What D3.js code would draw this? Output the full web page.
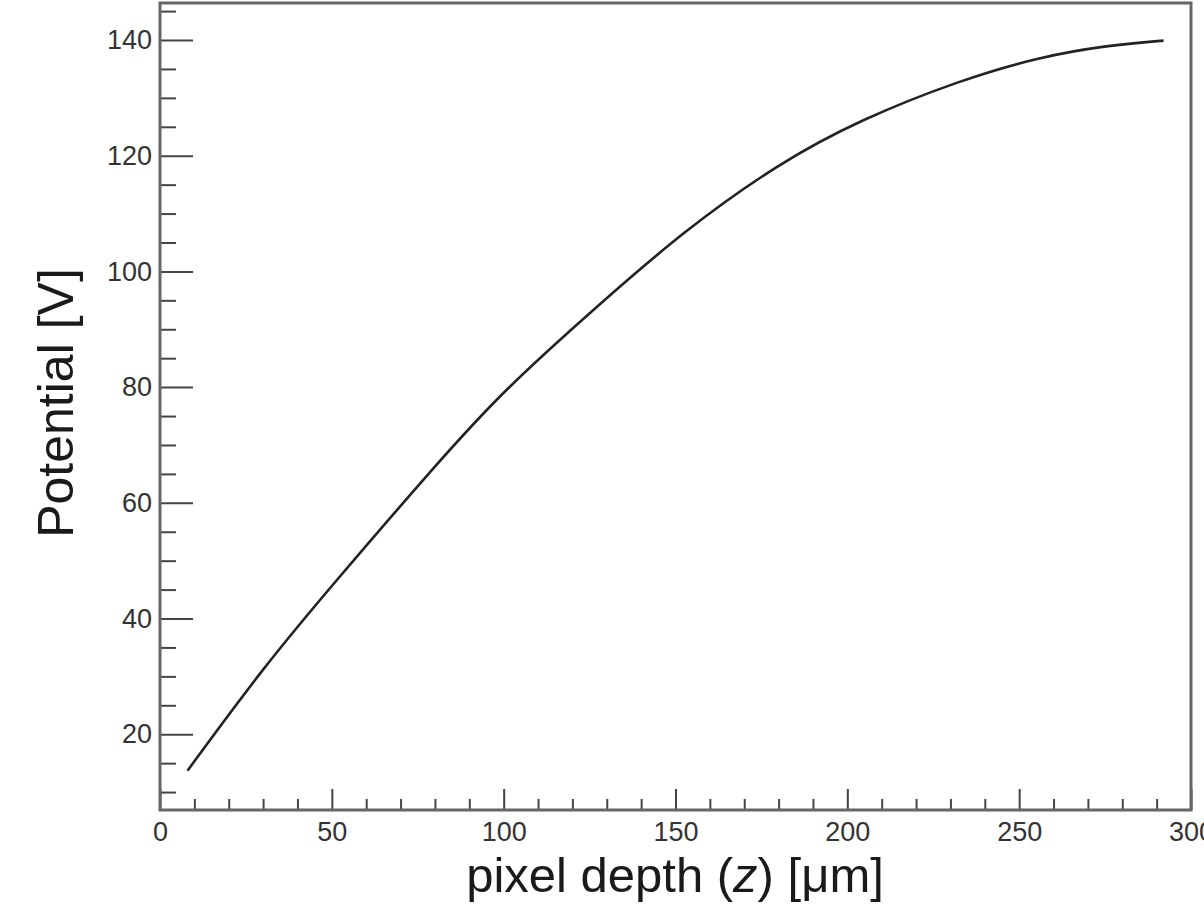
<!DOCTYPE html>
<html>
<head>
<meta charset="utf-8">
<script src="https://cdn.jsdelivr.net/npm/d3@7"></script>
<style>
  html, body { margin: 0; padding: 0; background: #fff; }
  svg { display: block; }
</style>
</head>
<body>
<svg></svg>
<script>
// values
var depth = [8, 30, 50, 80, 100, 128, 152, 180, 204, 233, 256, 276, 292];
var potential = [13.7, 31.5, 45.7, 66.4, 79.5, 94.4, 106.8, 118.7, 126.3, 133.1, 137.1, 139.1, 139.9];

var xMajor = [0, 50, 100, 150, 200, 250, 300];
var yMajor = [20, 40, 60, 80, 100, 120, 140];

var data = depth.map((d, i) => ({ z: d, v: potential[i] }));

const svgWidth = 1204,
    svgHeight = 908;

var frame = { left: 160, right: 1191, top: 3, bottom: 810 };

var svg = d3.select('svg')
    .attr("width", svgWidth)
    .attr("height", svgHeight);

var x = d3.scaleLinear()
    .domain([0, 300])
    .range([frame.left, frame.right]);

var y = d3.scaleLinear()
    .domain([6.9, 146.4])
    .range([frame.bottom, frame.top]);

var xMinor = d3.range(10, 300, 10).filter(d => d % 50 != 0);
var yMinor = d3.range(10, 146, 5).filter(d => d % 20 != 0);

// minor ticks first
svg.append("g")
    .attr("transform", "translate(0," + frame.bottom + ")")
    .call(d3.axisBottom(x).tickValues(xMinor).tickSize(-11).tickFormat(""));

svg.append("g")
    .attr("transform", "translate(" + frame.left + ",0)")
    .call(d3.axisLeft(y).tickValues(yMinor).tickSize(-16).tickFormat(""));

// major ticks + labels
svg.append("g")
    .attr("transform", "translate(0," + frame.bottom + ")")
    .call(d3.axisBottom(x).tickValues(xMajor).tickSize(-21).tickPadding(12));

svg.append("g")
    .attr("transform", "translate(" + frame.left + ",0)")
    .call(d3.axisLeft(y).tickValues(yMajor).tickSize(-33).tickPadding(8));

svg.selectAll(".domain").remove();

svg.selectAll(".tick line")
    .attr("stroke", "#444")
    .attr("stroke-width", 2);

svg.selectAll(".tick text")
    .attr("font-size", 27)
    .attr("font-family", "Liberation Sans, Arial, sans-serif")
    .attr("fill", "#333");

// frame
svg.append("rect")
    .attr("x", frame.left)
    .attr("y", frame.top)
    .attr("width", frame.right - frame.left)
    .attr("height", frame.bottom - frame.top)
    .attr("fill", "none")
    .attr("stroke", "#666")
    .attr("stroke-width", 3);

var line = d3.line()
    .x(d => x(d.z))
    .y(d => y(d.v))
    .curve(d3.curveBasis);

svg.append("path")
    .datum(data)
    .attr("d", line)
    .attr("fill", "none")
    .attr("stroke", "#222")
    .attr("stroke-width", 2.6);

// axis titles
var xt = svg.append("text")
    .attr("x", 675)
    .attr("y", 892)
    .attr("text-anchor", "middle")
    .attr("font-size", 49)
    .attr("font-family", "Liberation Sans, Arial, sans-serif")
    .attr("fill", "#1a1a1a");
xt.append("tspan").text("pixel depth (");
xt.append("tspan").attr("font-style", "italic").text("z");
xt.append("tspan").text(") [\u03bcm]");

svg.append("text")
    .attr("transform", "translate(73,403) rotate(-90)")
    .attr("text-anchor", "middle")
    .attr("font-size", 50)
    .attr("font-family", "Liberation Sans, Arial, sans-serif")
    .attr("fill", "#1a1a1a")
    .text("Potential [V]");
</script>
</body>
</html>
